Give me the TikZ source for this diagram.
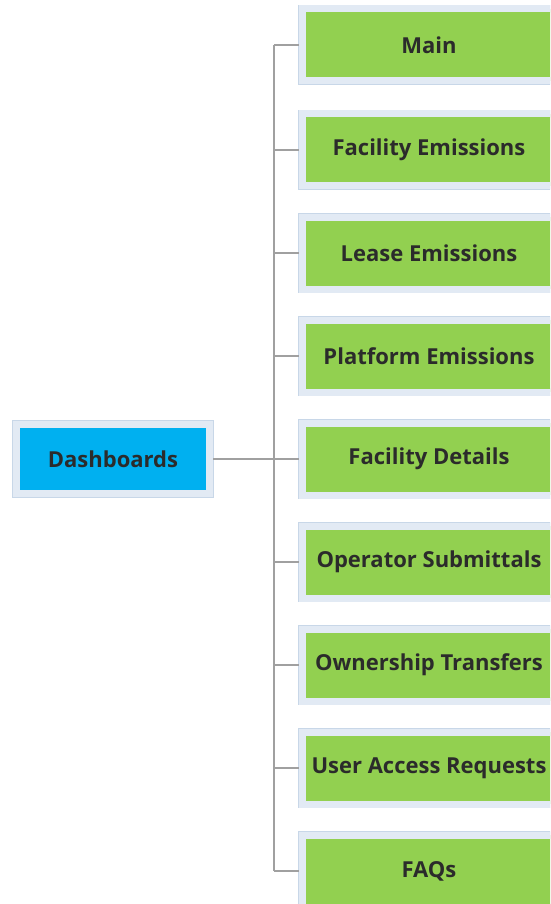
\documentclass[tikz,border=0pt]{standalone}
\usepackage{fontspec}
\setmainfont{Open Sans}
\definecolor{leafgreen}{HTML}{92D050}
\definecolor{rootblue}{HTML}{00B0F0}
\definecolor{rim}{HTML}{E2EAF4}
\definecolor{rimedge}{HTML}{C8D7E8}
\definecolor{wire}{HTML}{A0A0A0}
\definecolor{ink}{HTML}{2B2B2B}
\begin{document}
\begin{tikzpicture}[x=1pt,y=1pt,
  box/.style={draw=rim, line width=7pt, inner sep=0pt,
    preaction={draw=rimedge, line width=8.5pt},
    font=\bfseries\fontsize{22}{26}\selectfont, text=ink},
  leaf/.style={box, fill=leafgreen, minimum width=254pt, minimum height=72pt},
  root/.style={box, fill=rootblue, minimum width=193pt, minimum height=69pt},
  link/.style={draw=wire, line width=1.6pt}]
\useasboundingbox (0,0) rectangle (550,-904);
\begin{scope}
\clip (0,0) rectangle (550,-904);
\node[root] (dash) at (113,-459) {Dashboards};
\node[leaf] (c1) at (429,-45)  {Main};
\node[leaf] (c2) at (429,-150) {Facility Emissions};
\node[leaf] (c3) at (429,-253) {Lease Emissions};
\node[leaf] (c4) at (429,-356) {Platform Emissions};
\node[leaf] (c5) at (429,-459) {Facility Details};
\node[leaf] (c6) at (429,-562) {Operator Submittals};
\node[leaf] (c7) at (429,-665) {Ownership Transfers};
\node[leaf] (c8) at (429,-768) {User Access Requests};
\node[leaf] (c9) at (429,-871) {FAQs};
\coordinate (spine) at (274,-459);
\draw[link] (dash.east) -- (spine |- dash.east);
\draw[link] (spine |- c1.west) -- (spine |- c9.west);
\foreach \c in {c1,c2,c3,c4,c5,c6,c7,c8,c9}
  \draw[link] (spine |- \c.west) -- (\c.west);
\end{scope}
\end{tikzpicture}
\end{document}
